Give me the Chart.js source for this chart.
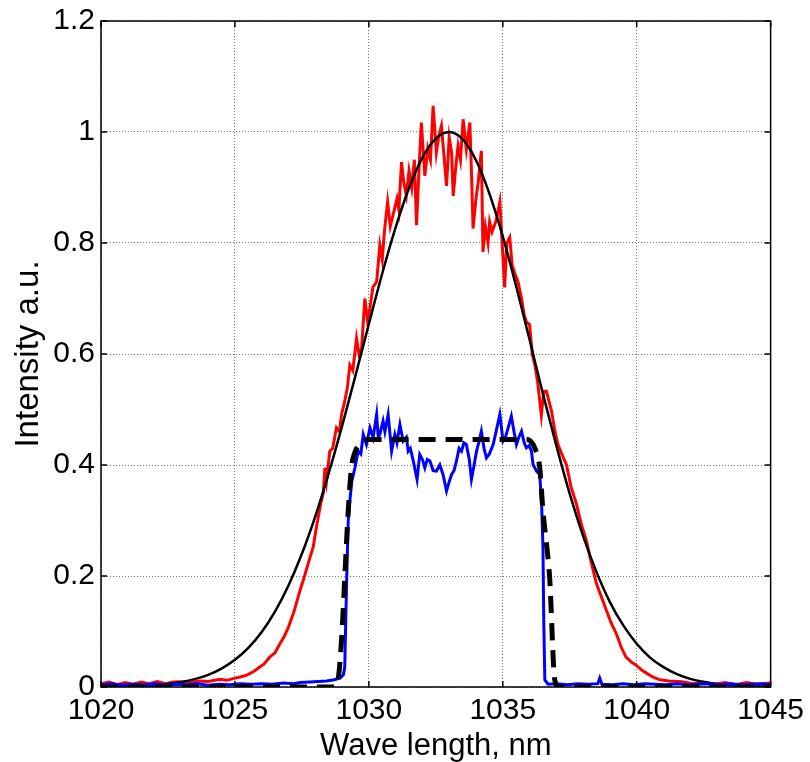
<!DOCTYPE html>
<html lang="en">
<head>
    <meta charset="UTF-8">
    <title>Spectrum</title>
    <style>
        body {
            margin: 0;
            background: #fff;
        }
        #wrap {
            width: 810px;
            height: 762px;
        }
    </style>
</head>
<body>
    <div id="wrap"><canvas id="spectrum" width="810" height="762"></canvas></div>

    <script src="https://cdn.jsdelivr.net/npm/chart.js"></script>
    <script>
        // axis ticks
        const xTicks = [1020, 1025, 1030, 1035, 1040, 1045];
        const xTickLabels = ['1020', '1025', '1030', '1035', '1040', '1045'];
        const yTicks = [0, 0.2, 0.4, 0.6, 0.8, 1, 1.2];
        const yTickLabels = ['0', '0.2', '0.4', '0.6', '0.8', '1', '1.2'];

        // measured spectrum (red)
        const redX = [1020.0, 1020.3, 1020.6, 1020.9, 1021.2, 1021.5, 1021.8, 1022.1, 1022.4, 1022.7, 1022.95, 1023.3, 1023.7, 1024.0, 1024.44, 1024.7, 1025.0, 1025.2, 1025.44, 1025.7, 1025.93, 1026.1, 1026.3, 1026.5, 1026.68, 1026.85, 1027.0, 1027.2, 1027.43, 1027.6, 1027.75, 1027.92, 1028.05, 1028.2, 1028.3, 1028.36, 1028.42, 1028.54, 1028.65, 1028.79, 1028.9, 1028.98, 1029.1, 1029.2, 1029.29, 1029.4, 1029.54, 1029.63, 1029.73, 1029.85, 1029.95, 1030.04, 1030.15, 1030.29, 1030.41, 1030.5, 1030.58, 1030.7, 1030.8, 1030.9, 1031.05, 1031.12, 1031.22, 1031.3, 1031.4, 1031.5, 1031.6, 1031.7, 1031.78, 1031.87, 1031.96, 1032.09, 1032.2, 1032.3, 1032.4, 1032.52, 1032.6, 1032.71, 1032.8, 1032.9, 1033.0, 1033.09, 1033.15, 1033.25, 1033.33, 1033.42, 1033.52, 1033.64, 1033.77, 1033.83, 1033.89, 1034.0, 1034.08, 1034.2, 1034.26, 1034.35, 1034.45, 1034.51, 1034.6, 1034.75, 1034.89, 1035.07, 1035.15, 1035.26, 1035.35, 1035.45, 1035.57, 1035.7, 1035.8, 1035.88, 1036.0, 1036.1, 1036.2, 1036.3, 1036.44, 1036.53, 1036.63, 1036.75, 1036.82, 1036.95, 1037.06, 1037.2, 1037.38, 1037.55, 1037.75, 1037.95, 1038.12, 1038.3, 1038.5, 1038.7, 1038.87, 1039.05, 1039.24, 1039.42, 1039.6, 1039.8, 1039.99, 1040.2, 1040.36, 1040.6, 1040.86, 1041.2, 1041.7, 1042.1, 1042.5, 1042.9, 1043.3, 1043.7, 1044.1, 1044.5, 1045.0];
        const redY = [0.006, 0.009, 0.004, 0.008, 0.005, 0.009, 0.006, 0.010, 0.006, 0.009, 0.0095, 0.008, 0.011, 0.010, 0.014, 0.012, 0.016, 0.018, 0.0215, 0.028, 0.036, 0.042, 0.054, 0.062, 0.078, 0.092, 0.108, 0.135, 0.174, 0.200, 0.225, 0.252, 0.290, 0.330, 0.350, 0.395, 0.371, 0.425, 0.430, 0.467, 0.460, 0.491, 0.515, 0.540, 0.580, 0.570, 0.628, 0.600, 0.610, 0.700, 0.660, 0.682, 0.720, 0.730, 0.796, 0.770, 0.820, 0.874, 0.830, 0.850, 0.880, 0.860, 0.946, 0.910, 0.886, 0.930, 0.900, 0.950, 0.832, 0.930, 1.017, 0.921, 0.970, 0.950, 1.047, 0.963, 0.990, 1.011, 0.960, 0.903, 0.990, 0.963, 0.885, 0.940, 0.975, 0.950, 1.023, 0.969, 1.017, 0.930, 0.826, 0.880, 0.909, 0.966, 0.784, 0.830, 0.800, 0.838, 0.820, 0.840, 0.874, 0.720, 0.800, 0.810, 0.760, 0.745, 0.730, 0.700, 0.670, 0.658, 0.653, 0.600, 0.580, 0.550, 0.490, 0.533, 0.533, 0.510, 0.497, 0.460, 0.437, 0.420, 0.400, 0.360, 0.330, 0.290, 0.264, 0.225, 0.186, 0.160, 0.138, 0.115, 0.096, 0.072, 0.054, 0.045, 0.039, 0.030, 0.025, 0.018, 0.013, 0.011, 0.0095, 0.006, 0.009, 0.005, 0.008, 0.004, 0.008, 0.005, 0.007];

        // fitted input spectrum (black solid)
        const fitX = [1020, 1020.5, 1021, 1021.5, 1022, 1022.5, 1023, 1023.5, 1024, 1024.5, 1025, 1025.5, 1026, 1026.5, 1027, 1027.5, 1028, 1028.5, 1029, 1029.5, 1030, 1030.5, 1031, 1031.5, 1032, 1032.5, 1033, 1033.5, 1034, 1034.5, 1035, 1035.5, 1036, 1036.5, 1037, 1037.5, 1038, 1038.5, 1039, 1039.5, 1040, 1040.5, 1041, 1041.5, 1042, 1042.5, 1043, 1043.5, 1044, 1044.5, 1045];
        const fitY = [0.0003, 0.0006, 0.0011, 0.0019, 0.0033, 0.0055, 0.0089, 0.0142, 0.0219, 0.0331, 0.0489, 0.0704, 0.0991, 0.1363, 0.183, 0.240, 0.3075, 0.385, 0.470, 0.561, 0.654, 0.745, 0.828, 0.899, 0.954, 0.988, 1.0, 0.987, 0.949, 0.889, 0.812, 0.722, 0.626, 0.528, 0.435, 0.348, 0.272, 0.207, 0.153, 0.111, 0.078, 0.053, 0.0357, 0.0232, 0.0147, 0.0091, 0.0055, 0.0032, 0.0018, 0.001, 0.0006];

        // filtered spectrum (blue)
        const blueX = [1020.0, 1020.4, 1020.8, 1021.2, 1021.6, 1022.0, 1022.4, 1022.8, 1023.2, 1023.6, 1024.0, 1024.4, 1024.8, 1025.2, 1025.6, 1026.0, 1026.4, 1026.8, 1027.2, 1027.43, 1027.8, 1028.1, 1028.42, 1028.7, 1028.92, 1029.05, 1029.1, 1029.17, 1029.23, 1029.29, 1029.36, 1029.48, 1029.6, 1029.7, 1029.79, 1029.91, 1030.04, 1030.16, 1030.29, 1030.35, 1030.41, 1030.53, 1030.6, 1030.72, 1030.85, 1030.97, 1031.05, 1031.16, 1031.28, 1031.4, 1031.47, 1031.55, 1031.66, 1031.8, 1031.9, 1032.0, 1032.09, 1032.18, 1032.28, 1032.4, 1032.52, 1032.65, 1032.77, 1032.9, 1033.0, 1033.09, 1033.18, 1033.27, 1033.37, 1033.46, 1033.55, 1033.64, 1033.75, 1033.83, 1033.93, 1034.02, 1034.1, 1034.2, 1034.3, 1034.39, 1034.5, 1034.64, 1034.75, 1034.89, 1035.01, 1035.1, 1035.2, 1035.32, 1035.42, 1035.51, 1035.6, 1035.7, 1035.8, 1035.88, 1035.98, 1036.07, 1036.13, 1036.26, 1036.38, 1036.45, 1036.5, 1036.53, 1036.57, 1036.69, 1037.0, 1037.4, 1037.8, 1038.2, 1038.55, 1038.62, 1038.7, 1039.1, 1039.5, 1039.9, 1040.3, 1040.7, 1041.1, 1041.5, 1041.9, 1042.3, 1042.7, 1043.1, 1043.5, 1043.9, 1044.3, 1044.7, 1045.0];
        const blueY = [0.004, 0.006, 0.003, 0.005, 0.004, 0.006, 0.003, 0.005, 0.004, 0.006, 0.003, 0.005, 0.004, 0.006, 0.005, 0.006, 0.005, 0.007, 0.006, 0.008, 0.009, 0.010, 0.011, 0.013, 0.016, 0.022, 0.036, 0.190, 0.300, 0.335, 0.370, 0.395, 0.425, 0.420, 0.455, 0.437, 0.467, 0.449, 0.491, 0.450, 0.455, 0.479, 0.460, 0.491, 0.425, 0.455, 0.440, 0.473, 0.443, 0.450, 0.425, 0.430, 0.407, 0.374, 0.419, 0.410, 0.395, 0.410, 0.407, 0.390, 0.389, 0.400, 0.383, 0.353, 0.370, 0.383, 0.390, 0.407, 0.430, 0.425, 0.440, 0.437, 0.410, 0.374, 0.400, 0.425, 0.440, 0.461, 0.430, 0.413, 0.420, 0.437, 0.460, 0.491, 0.443, 0.450, 0.467, 0.488, 0.460, 0.437, 0.450, 0.461, 0.440, 0.431, 0.435, 0.425, 0.401, 0.389, 0.383, 0.330, 0.252, 0.120, 0.0126, 0.005, 0.006, 0.004, 0.006, 0.005, 0.006, 0.016, 0.005, 0.004, 0.006, 0.004, 0.006, 0.005, 0.004, 0.006, 0.004, 0.005, 0.006, 0.004, 0.006, 0.004, 0.005, 0.006, 0.004];

        // ideal filter shape (black dashed)
        const filterX = [1020, 1028.7, 1028.85, 1029.0, 1029.1, 1029.23, 1029.35, 1029.5, 1029.66, 1030.0, 1035.9, 1036.19, 1036.38, 1036.5, 1036.65, 1036.75, 1036.94, 1037.1, 1045];
        const filterY = [0, 0, 0.013, 0.1, 0.197, 0.317, 0.395, 0.425, 0.437, 0.446, 0.446, 0.431, 0.395, 0.317, 0.25, 0.197, 0.013, 0, 0];

        const pts = (xs, ys) => xs.map((x, i) => ({ x: x, y: ys[i] }));

        const sans = "'Liberation Sans', Arial, Helvetica, sans-serif";

        // MATLAB-like box with inward ticks
        const framePlugin = {
            id: 'frame',
            afterDatasetsDraw(chart) {
                const { ctx, chartArea: a, scales } = chart;
                ctx.save();
                ctx.strokeStyle = '#000';
                ctx.lineWidth = 1.5;
                ctx.beginPath();
                xTicks.forEach(v => {
                    const px = scales.x.getPixelForValue(v);
                    ctx.moveTo(px, a.bottom); ctx.lineTo(px, a.bottom - 6);
                    ctx.moveTo(px, a.top); ctx.lineTo(px, a.top + 6);
                });
                yTicks.forEach(v => {
                    const py = scales.y.getPixelForValue(v);
                    ctx.moveTo(a.left, py); ctx.lineTo(a.left + 6, py);
                    ctx.moveTo(a.right, py); ctx.lineTo(a.right - 6, py);
                });
                ctx.stroke();
                ctx.strokeRect(a.left, a.top, a.right - a.left, a.bottom - a.top);
                ctx.restore();
            }
        };

        const ctx = document.getElementById('spectrum').getContext('2d');
        new Chart(ctx, {
            type: 'line',
            data: {
                datasets: [
                    { data: pts(filterX, filterY), borderColor: '#000', borderWidth: 5, borderDash: [17, 10], cubicInterpolationMode: 'monotone' },
                    { data: pts(blueX, blueY), borderColor: '#0000ff', borderWidth: 3, tension: 0 },
                    { data: pts(fitX, fitY), borderColor: '#000', borderWidth: 2.5, cubicInterpolationMode: 'monotone' },
                    { data: pts(redX, redY), borderColor: '#ff0000', borderWidth: 3, tension: 0 }
                ]
            },
            options: {
                responsive: false,
                animation: false,
                layout: { padding: { top: 18, right: 39, left: 0, bottom: 0 } },
                elements: { point: { radius: 0 } },
                plugins: { legend: { display: false }, tooltip: { enabled: false } },
                scales: {
                    x: {
                        type: 'linear',
                        min: 1020,
                        max: 1045,
                        afterFit: s => { s.height = 75; },
                        afterBuildTicks: s => { s.ticks = xTicks.map(v => ({ value: v })); },
                        ticks: {
                            color: '#000',
                            padding: 6,
                            maxRotation: 0,
                            font: { family: sans, size: 30 },
                            callback: (v, i) => xTickLabels[i]
                        },
                        grid: { color: '#7a7a7a', lineWidth: 1, drawTicks: false, tickLength: 0 },
                        border: { display: false, dash: [1, 2] },
                        title: {
                            display: true,
                            text: 'Wave length, nm',
                            color: '#000',
                            padding: 0,
                            font: { family: sans, size: 31, lineHeight: 1 }
                        }
                    },
                    y: {
                        min: 0,
                        max: 1.2,
                        afterFit: s => { s.width = 101; },
                        afterBuildTicks: s => { s.ticks = yTicks.map(v => ({ value: v })); },
                        ticks: {
                            color: '#000',
                            padding: 6,
                            font: { family: sans, size: 30, lineHeight: 1 },
                            callback: (v, i) => yTickLabels[i]
                        },
                        grid: { color: '#7a7a7a', lineWidth: 1, drawTicks: false, tickLength: 0 },
                        border: { display: false, dash: [1, 2] },
                        title: {
                            display: true,
                            text: 'Intensity a.u.',
                            color: '#000',
                            padding: { top: 12, bottom: 0 },
                            font: { family: sans, size: 33, lineHeight: 1 }
                        }
                    }
                }
            },
            plugins: [framePlugin]
        });
    </script>
</body>
</html>
